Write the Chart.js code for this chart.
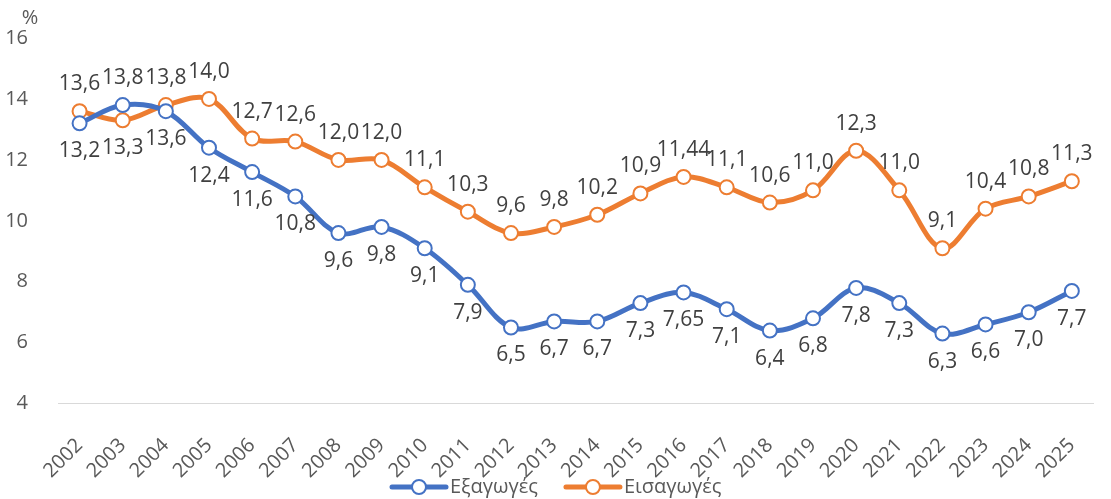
<!DOCTYPE html>
<html>
<head>
<meta charset="utf-8">
<script src="https://cdn.jsdelivr.net/npm/chart.js@4.4.1/dist/chart.umd.min.js"></script>
<style>
  html, body { margin: 0; padding: 0; background: #fff; }
  #wrap { width: 1111px; height: 499px; position: relative; }
</style>
</head>
<body>
<div id="wrap"><canvas id="c" width="1111" height="499"></canvas></div>
<script>
// --- data ---
const years = ['2002','2003','2004','2005','2006','2007','2008','2009','2010','2011','2012','2013',
               '2014','2015','2016','2017','2018','2019','2020','2021','2022','2023','2024','2025'];
const exportsVals = [13.2, 13.8, 13.6, 12.4, 11.6, 10.8, 9.6, 9.8, 9.1, 7.9, 6.5, 6.7,
                     6.7, 7.3, 7.65, 7.1, 6.4, 6.8, 7.8, 7.3, 6.3, 6.6, 7.0, 7.7];
const importsVals = [13.6, 13.3, 13.8, 14.0, 12.7, 12.6, 12.0, 12.0, 11.1, 10.3, 9.6, 9.8,
                     10.2, 10.9, 11.44, 11.1, 10.6, 11.0, 12.3, 11.0, 9.1, 10.4, 10.8, 11.3];
const exportsLabels = ['13,2','13,8','13,6','12,4','11,6','10,8','9,6','9,8','9,1','7,9','6,5','6,7',
                       '6,7','7,3','7,65','7,1','6,4','6,8','7,8','7,3','6,3','6,6','7,0','7,7'];
const importsLabels = ['13,6','13,3','13,8','14,0','12,7','12,6','12,0','12,0','11,1','10,3','9,6','9,8',
                       '10,2','10,9','11,44','11,1','10,6','11,0','12,3','11,0','9,1','10,4','10,8','11,3'];
const yTicks = [4, 6, 8, 10, 12, 14, 16];

const BLUE = '#4472C4', ORANGE = '#ED7D31', TEXT = '#595959';
const FONT = '"Open Sans", "DejaVu Sans", sans-serif';

// label positions: blue below / orange above, except 2003 swapped
const expPos = years.map((y, i) => i === 1 ? 'above' : 'below');
const impPos = years.map((y, i) => i === 1 ? 'below' : 'above');

// line + open circle, used for the legend
function drawMarker(ctx, cx, cy, color) {
  ctx.strokeStyle = color; ctx.lineWidth = 5; ctx.lineCap = 'round';
  ctx.beginPath(); ctx.moveTo(cx - 27, cy); ctx.lineTo(cx + 27, cy); ctx.stroke();
  ctx.fillStyle = '#fff'; ctx.lineWidth = 2;
  ctx.beginPath(); ctx.arc(cx, cy, 7, 0, Math.PI * 2); ctx.fill(); ctx.stroke();
}

const extras = {
  id: 'extras',
  afterDatasetsDraw(chart) {
    const ctx = chart.ctx;
    ctx.save();
    ctx.font = '21px ' + FONT;
    ctx.fillStyle = '#404040';
    ctx.textAlign = 'center';
    ctx.textBaseline = 'middle';
    chart.data.datasets.forEach((ds, di) => {
      const meta = chart.getDatasetMeta(di);
      meta.data.forEach((pt, i) => {
        const dy = ds.labelPos[i] === 'above' ? -27 : 28;
        ctx.fillText(ds.labelText[i], pt.x, pt.y + dy);
      });
    });
    // axis unit
    ctx.fillStyle = TEXT;
    ctx.font = '20px ' + FONT;
    ctx.fillText('%', 30, 18);

    // legend
    const ly = 487;
    let x = 392;
    ctx.textAlign = 'left';
    chart.data.datasets.forEach(ds => {
      drawMarker(ctx, x + 27, ly, ds.borderColor);
      ctx.fillStyle = TEXT;
      ctx.font = '20px ' + FONT;
      ctx.fillText(ds.label, x + 58, ly);
      x += 58 + ctx.measureText(ds.label).width + 28;
    });
    ctx.restore();
  }
};

new Chart(document.getElementById('c'), {
  type: 'line',
  data: {
    labels: years,
    datasets: [
      {
        label: 'Εξαγωγές', data: exportsVals, labelText: exportsLabels, labelPos: expPos,
        borderColor: BLUE, backgroundColor: '#fff', borderWidth: 5, tension: 0.35,
        pointRadius: 7, pointBorderWidth: 2, pointBackgroundColor: '#fff', pointBorderColor: BLUE
      },
      {
        label: 'Εισαγωγές', data: importsVals, labelText: importsLabels, labelPos: impPos,
        borderColor: ORANGE, backgroundColor: '#fff', borderWidth: 5, tension: 0.35,
        pointRadius: 7, pointBorderWidth: 2, pointBackgroundColor: '#fff', pointBorderColor: ORANGE
      }
    ]
  },
  options: {
    responsive: false, animation: false,
    layout: { padding: { top: 38, right: 8, left: 0, bottom: -6 } },
    plugins: {
      tooltip: { enabled: false },
      legend: { display: false }
    },
    scales: {
      x: {
        offset: true,
        grid: { display: false },
        border: { color: '#d9d9d9', width: 1 },
        ticks: { color: TEXT, font: { size: 20, family: FONT }, maxRotation: 45, minRotation: 45, padding: 22 }
      },
      y: {
        min: 4, max: 16,
        afterBuildTicks(s) { s.ticks = yTicks.map(v => ({ value: v })); },
        afterFit(s) { s.width = 58; },
        grid: { display: false },
        border: { display: false },
        ticks: { color: TEXT, font: { size: 20, family: FONT }, padding: 22 }
      }
    }
  },
  plugins: [extras]
});
</script>
</body>
</html>
